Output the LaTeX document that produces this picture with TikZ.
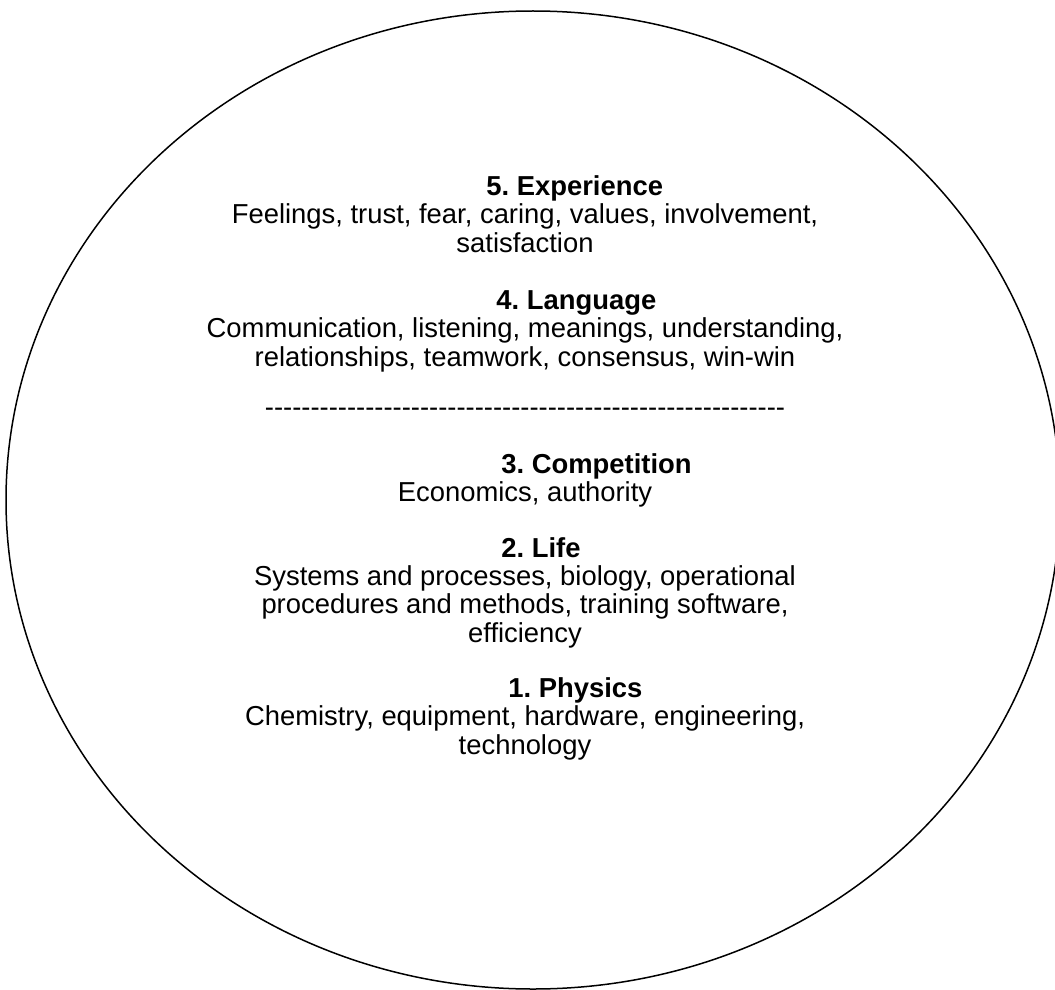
\documentclass[tikz,border=0pt]{standalone}
\usepackage{fontspec}
\setmainfont{Liberation Sans}[Ligatures=TeXOff]
\usepackage{tikz}
\frenchspacing
\tikzset{every node/.style={
    inner sep=0pt,
    font=\fontsize{13.7}{14.25}\selectfont
}}
% headings sit on their baseline, body text on the baseline of its last line
\tikzset{
    heading/.style={anchor=base west,font=\fontsize{13.7}{14.25}\selectfont\bfseries},
    body/.style={anchor=base,align=center}
}

\begin{document}
\begin{tikzpicture}[x=0.5pt,y=-0.5pt]
        \useasboundingbox (0,0) rectangle (1055,990);

        \draw[line width=0.75pt] (533,500) ellipse (527 and 489);

        % upper levels
        \node[heading] (h5) at (486,195) {5. Experience};
        \node[body] (b5) at (525,252) {Feelings, trust, fear, caring, values, involvement,\\ satisfaction};

        \node[heading] (h4) at (496,309) {4. Language};
        \node[body] (b4) at (525,366) {Communication, listening, meanings, understanding,\\ relationships, teamwork, consensus, win-win};

        \node[body] (sep) at (525,416) {---------------------------------------------------------};

        % lower levels
        \node[heading] (h3) at (501,473) {3. Competition};
        \node[body] (b3) at (525,501) {Economics, authority};

        \node[heading] (h2) at (501,557) {2. Life};
        \node[body] (b2) at (525,642) {Systems and processes, biology, operational\\ procedures and methods, training software,\\ efficiency};

        \node[heading] (h1) at (508,697) {1. Physics};
        \node[body] (b1) at (525,754) {Chemistry, equipment, hardware, engineering,\\ technology};
    \end{tikzpicture}
\end{document}
